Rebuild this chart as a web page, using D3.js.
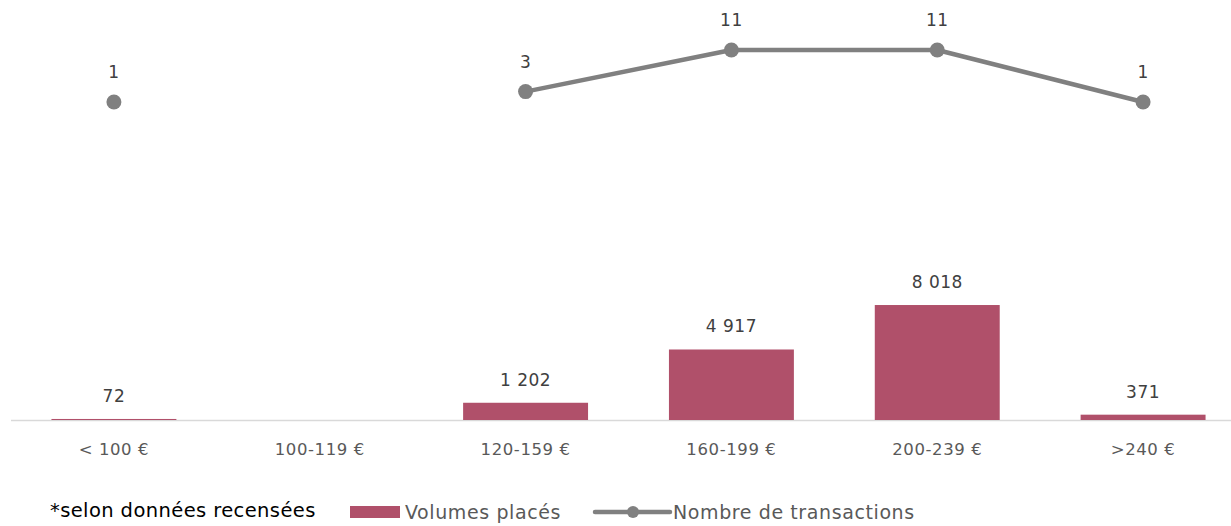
<!DOCTYPE html>
<html>
<head>
<meta charset="utf-8">
<script src="https://cdn.jsdelivr.net/npm/d3@7"></script>
<style>
  body { margin: 0; background: #fff; }
  svg { display: block; font-family: "DejaVu Sans", sans-serif; }
</style>
</head>
<body>
<div id="chart"></div>
<script>
var categories = ["< 100 €", "100-119 €", "120-159 €", "160-199 €", "200-239 €", ">240 €"];
var volumes = [72, null, 1202, 4917, 8018, 371];
var transactions = [1, null, 3, 11, 11, 1];
var volumeLabels = ["72", "", "1 202", "4 917", "8 018", "371"];
var seriesNames = ["Volumes placés", "Nombre de transactions"];
var noteText = "*selon données recensées";

var width = 1231, height = 526;
var barColor = "#b0506a", lineColor = "#808080";

var svg = d3.select("#chart").append("svg")
  .attr("width", width)
  .attr("height", height);

var x = d3.scaleBand().domain(categories).range([11, 1246]);
var barW = x.step() * 0.607;

var yBar = d3.scaleLinear().domain([0, 10000]).range([420, 276.6]);
var yLine = d3.scaleLinear().domain([0, 12]).range([107.2, 44.8]);

// axis line
svg.append("line")
  .attr("x1", 11).attr("x2", width)
  .attr("y1", yBar(0) + 0.5).attr("y2", yBar(0) + 0.5)
  .attr("stroke", "#d9d9d9").attr("stroke-width", 1.5);

// bars
var barData = categories.map(function(c, i) { return { cat: c, v: volumes[i], label: volumeLabels[i] }; })
  .filter(function(d) { return d.v != null; });

svg.selectAll("rect.bar")
  .data(barData)
  .enter().append("rect")
  .attr("class", "bar")
  .attr("x", function(d) { return x(d.cat) + (x.bandwidth() - barW) / 2; })
  .attr("y", function(d) { return yBar(d.v); })
  .attr("width", barW)
  .attr("height", function(d) { return yBar(0) - yBar(d.v); })
  .attr("fill", barColor);

svg.selectAll("text.barlabel")
  .data(barData)
  .enter().append("text")
  .attr("class", "barlabel")
  .attr("x", function(d) { return x(d.cat) + x.bandwidth() / 2; })
  .attr("y", function(d) { return yBar(d.v) - 17; })
  .attr("text-anchor", "middle")
  .attr("font-size", 17)
  .attr("letter-spacing", 0.5)
  .attr("fill", "#404040")
  .text(function(d) { return d.label; });

// category labels
svg.selectAll("text.cat")
  .data(categories)
  .enter().append("text")
  .attr("class", "cat")
  .attr("x", function(d) { return x(d) + x.bandwidth() / 2; })
  .attr("y", 455)
  .attr("text-anchor", "middle")
  .attr("font-size", 16.5)
  .attr("letter-spacing", 0.6)
  .attr("fill", "#595959")
  .text(function(d) { return d; });

// line
var lineData = categories.map(function(c, i) { return { cat: c, v: transactions[i] }; });
var line = d3.line()
  .defined(function(d) { return d.v != null; })
  .x(function(d) { return x(d.cat) + x.bandwidth() / 2; })
  .y(function(d) { return yLine(d.v); });

svg.append("path")
  .datum(lineData)
  .attr("d", line)
  .attr("fill", "none")
  .attr("stroke", lineColor)
  .attr("stroke-width", 4.5)
  .attr("stroke-linejoin", "round");

var pts = lineData.filter(function(d) { return d.v != null; });
svg.selectAll("circle.pt")
  .data(pts)
  .enter().append("circle")
  .attr("class", "pt")
  .attr("cx", function(d) { return x(d.cat) + x.bandwidth() / 2; })
  .attr("cy", function(d) { return yLine(d.v); })
  .attr("r", 7.5)
  .attr("fill", lineColor);

svg.selectAll("text.ptlabel")
  .data(pts)
  .enter().append("text")
  .attr("class", "ptlabel")
  .attr("x", function(d) { return x(d.cat) + x.bandwidth() / 2; })
  .attr("y", function(d) { return yLine(d.v) - 24; })
  .attr("text-anchor", "middle")
  .attr("font-size", 17)
  .attr("letter-spacing", 0.5)
  .attr("fill", "#404040")
  .text(function(d) { return d.v; });

// note + legend
svg.append("text")
  .attr("x", 50).attr("y", 517)
  .attr("font-size", 19.5)
  .attr("letter-spacing", 0.4)
  .attr("fill", "#000")
  .text(noteText);

var lg = svg.append("g");
lg.append("rect")
  .attr("x", 350).attr("y", 506).attr("width", 50).attr("height", 12)
  .attr("fill", barColor);
lg.append("text")
  .attr("x", 405).attr("y", 519)
  .attr("font-size", 19).attr("letter-spacing", 0.6).attr("fill", "#595959")
  .text(seriesNames[0]);
lg.append("line")
  .attr("x1", 595).attr("x2", 670).attr("y1", 512).attr("y2", 512)
  .attr("stroke", lineColor).attr("stroke-width", 4.5).attr("stroke-linecap", "round");
lg.append("circle")
  .attr("cx", 633).attr("cy", 512).attr("r", 6)
  .attr("fill", lineColor);
lg.append("text")
  .attr("x", 673).attr("y", 519)
  .attr("font-size", 19).attr("letter-spacing", 0.6).attr("fill", "#595959")
  .text(seriesNames[1]);
</script>
</body>
</html>
